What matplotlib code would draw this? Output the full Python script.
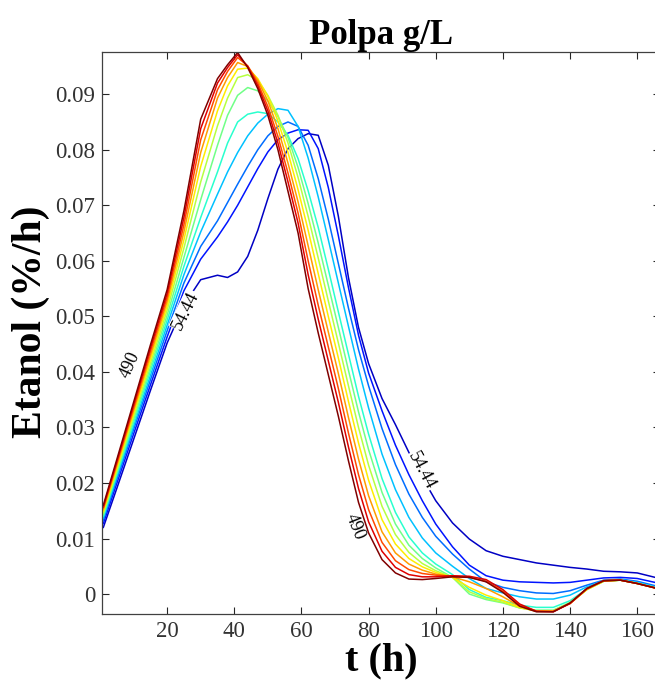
import matplotlib.pyplot as plt
import numpy as np

plt.rcParams['font.family'] = ['Liberation Serif', 'DejaVu Serif']

# tempo de fermentação (h)
t = [1, 5, 10, 15, 20, 25, 30, 35, 38, 41, 44, 47, 50, 53, 56, 59, 62, 65, 68, 71,
     74, 77, 80, 84, 88, 92, 96, 100, 105, 110, 115, 120, 125, 130, 135, 140, 145,
     150, 155, 160, 166]

# níveis de polpa (g/L)
polpa = [54.44, 94.04, 133.63, 173.23, 212.82, 252.42, 292.02, 331.61, 371.21,
         410.80, 450.40, 490.00]

# produtividade de etanol (%/h) para cada nível de polpa
et_054 = [.0120, .0190, .0278, .0366, .0452, .0520, .0566, .0574, .0570, .0580,
          .0608, .0655, .0712, .0765, .0802, .0820, .0829, .0826, .0772, .0680,
          .0570, .0480, .0415, .0352, .0305, .0255, .0210, .0168, .0128, .0099,
          .0078, .0068, .0062, .0056, .0052, .0048, .0045, .0041, .0040, .0038, .0029]
et_094 = [.0127, .0199, .0288, .0376, .0463, .0546, .0603, .0643, .0670, .0700,
          .0733, .0766, .0796, .0818, .0830, .0836, .0835, .0802, .0732, .0645,
          .0552, .0466, .0398, .0330, .0268, .0215, .0168, .0126, .0085, .0052,
          .0033, .0025, .0022, .0021, .0020, .0021, .0025, .0029, .0030, .0028, .0020]
et_134 = [.0133, .0206, .0296, .0385, .0474, .0560, .0626, .0672, .0705, .0738,
          .0770, .0800, .0825, .0842, .0850, .0842, .0808, .0748, .0675, .0595,
          .0515, .0440, .0375, .0298, .0233, .0180, .0138, .0104, .0072, .0045,
          .0022, .0012, .0006, .0002, .0001, .0006, .0016, .0025, .0027, .0023, .0014]
et_173 = [.0137, .0211, .0302, .0393, .0484, .0575, .0652, .0720, .0760, .0795,
          .0825, .0848, .0864, .0874, .0871, .0842, .0785, .0715, .0638, .0560,
          .0482, .0405, .0335, .0252, .0188, .0138, .0101, .0074, .0050, .0028,
          .0010, .0002, -.0005, -.0009, -.0009, -.0002, .0013, .0024, .0026, .0021, .0012]
et_213 = [.0140, .0215, .0308, .0401, .0493, .0590, .0678, .0760, .0812, .0850,
          .0864, .0868, .0865, .0850, .0826, .0784, .0726, .0660, .0585, .0508,
          .0432, .0356, .0288, .0208, .0147, .0103, .0074, .0054, .0035, .0008,
          -.0006, -.0012, -.0020, -.0024, -.0024, -.0012, .0009, .0023, .0025, .0020, .0011]
et_252 = [.0143, .0219, .0314, .0408, .0502, .0606, .0710, .0808, .0862, .0898,
          .0912, .0906, .0888, .0860, .0822, .0768, .0703, .0632, .0556, .0480,
          .0403, .0328, .0260, .0183, .0126, .0088, .0064, .0047, .0030, .0000,
          -.0010, -.0016, -.0025, -.0029, -.0029, -.0015, .0008, .0023, .0025, .0019, .0010]
et_292 = [.0146, .0223, .0320, .0415, .0511, .0623, .0742, .0843, .0893, .0930,
          .0935, .0925, .0898, .0862, .0812, .0750, .0680, .0605, .0528, .0452,
          .0375, .0300, .0232, .0158, .0107, .0075, .0055, .0042, .0030, .0004,
          -.0008, -.0015, -.0025, -.0030, -.0030, -.0016, .0008, .0023, .0025, .0019, .0010]
et_332 = [.0149, .0227, .0325, .0422, .0519, .0638, .0770, .0870, .0915, .0945,
          .0947, .0928, .0896, .0852, .0795, .0728, .0655, .0577, .0500, .0425,
          .0347, .0272, .0205, .0134, .0090, .0064, .0049, .0039, .0030, .0012,
          -.0002, -.0012, -.0024, -.0031, -.0031, -.0017, .0008, .0023, .0025, .0019, .0010]
et_371 = [.0152, .0231, .0330, .0429, .0527, .0652, .0795, .0893, .0930, .0957,
          .0950, .0925, .0888, .0838, .0776, .0706, .0627, .0548, .0472, .0397,
          .0318, .0243, .0177, .0112, .0074, .0054, .0043, .0036, .0031, .0022,
          .0010, -.0005, -.0022, -.0031, -.0031, -.0017, .0009, .0024, .0025, .0019, .0010]
et_411 = [.0155, .0235, .0335, .0436, .0534, .0665, .0818, .0908, .0941, .0966,
          .0951, .0920, .0878, .0824, .0758, .0686, .0600, .0520, .0445, .0370,
          .0290, .0215, .0152, .0093, .0060, .0044, .0037, .0034, .0032, .0030,
          .0023, .0005, -.0020, -.0031, -.0031, -.0017, .0009, .0024, .0025, .0019, .0010]
et_450 = [.0157, .0238, .0340, .0442, .0541, .0678, .0838, .0920, .0948, .0971,
          .0950, .0915, .0870, .0812, .0742, .0668, .0575, .0495, .0420, .0345,
          .0265, .0190, .0130, .0077, .0048, .0035, .0031, .0031, .0033, .0032,
          .0026, .0008, -.0018, -.0031, -.0032, -.0017, .0010, .0024, .0025, .0019, .0010]
et_490 = [.0160, .0242, .0345, .0448, .0548, .0690, .0855, .0928, .0953, .0975,
          .0948, .0910, .0862, .0800, .0725, .0650, .0550, .0470, .0395, .0320,
          .0240, .0165, .0110, .0062, .0038, .0027, .0026, .0028, .0031, .0030,
          .0022, .0003, -.0022, -.0032, -.0032, -.0016, .0010, .0024, .0025, .0019, .0010]

curvas = [et_054, et_094, et_134, et_173, et_213, et_252,
          et_292, et_332, et_371, et_411, et_450, et_490]

yticks = [0, 0.01, 0.02, 0.03, 0.04, 0.05, 0.06, 0.07, 0.08, 0.09]
ytick_labels = ['0', '0.01', '0.02', '0.03', '0.04', '0.05', '0.06', '0.07', '0.08', '0.09']
xticks = [20, 40, 60, 80, 100, 120, 140, 160]

fig = plt.figure(figsize=(6.55, 6.95), dpi=100)
ax = fig.add_axes([0.1557, 0.1165, 0.852, 0.8087])

cores = plt.cm.jet(np.linspace(0.06, 1.0, len(curvas)))
for y, c in zip(curvas, cores):
    ax.plot(t, y, color=c, lw=1.1)

# rótulos das curvas extremas
caixa = dict(boxstyle='square,pad=0.05', fc='white', ec='none')
ax.text(25.6, 0.0510, '54.44', rotation=64, fontsize=13, ha='center', va='center',
        bbox=caixa, zorder=5)
ax.text(95.8, 0.0222, '54.44', rotation=-62, fontsize=13, ha='center', va='center',
        bbox=caixa, zorder=5)
ax.text(8.8, 0.0412, '490', rotation=66, fontsize=13, ha='center', va='center', zorder=5)
ax.text(75.9, 0.0122, '490', rotation=-68, fontsize=13, ha='center', va='center', zorder=5)

ax.set_xlim(0.6, 166.8)
ax.set_ylim(-0.0036, 0.0976)
ax.set_xticks(xticks)
ax.set_yticks(yticks)
ax.set_yticklabels(ytick_labels)
ax.tick_params(direction='in', length=5, width=0.8, top=True, right=True,
               labelsize=16.5, colors='#262626', labelcolor='#333333', pad=5)
for s in ax.spines.values():
    s.set_color('#404040')
    s.set_linewidth(0.9)

ax.set_title('Polpa g/L', fontsize=25, fontweight='bold', pad=6)
ax.set_xlabel('t (h)', fontsize=29, fontweight='bold', labelpad=0)
ax.set_ylabel('Etanol (%/h)', fontsize=30, fontweight='bold')
ax.yaxis.set_label_coords(-0.093, 0.52)

fig.savefig('out.png', dpi=100)
